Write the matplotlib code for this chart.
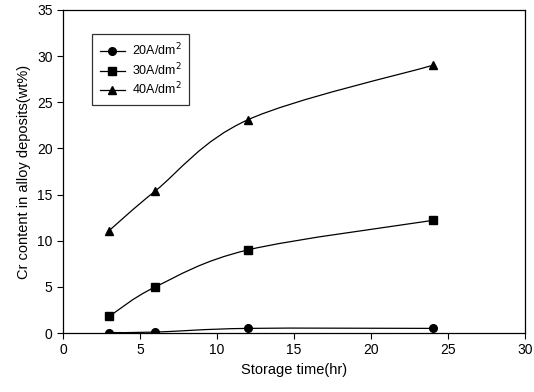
import numpy as np
import matplotlib.pyplot as plt
from matplotlib.path import Path
from matplotlib.patches import PathPatch

plt.rcParams['font.family'] = ['Liberation Sans', 'DejaVu Sans']

# data
time_hr = [3, 6, 12, 24]
cr_20 = [0.05, 0.1, 0.5, 0.5]
cr_30 = [1.8, 5.0, 9.0, 12.2]
cr_40 = [11.1, 15.4, 23.1, 29.0]
labels = ['20A/dm$^2$', '30A/dm$^2$', '40A/dm$^2$']
markers = ['o', 's', '^']


def smooth_path(x, y):
    # catmull-rom through the points, written as cubic bezier segments
    x = np.asarray(x, float)
    y = np.asarray(y, float)
    p = np.column_stack([x, y])
    verts = [p[0]]
    codes = [Path.MOVETO]
    n = len(p)
    for i in range(n - 1):
        p0 = p[i - 1] if i > 0 else p[i]
        p3 = p[i + 2] if i + 2 < n else p[i + 1]
        c1 = p[i] + (p[i + 1] - p0) / 6
        c2 = p[i + 1] - (p3 - p[i]) / 6
        verts += [c1, c2, p[i + 1]]
        codes += [Path.CURVE4] * 3
    return Path(verts, codes)


fig = plt.figure(figsize=(5.34, 3.92), dpi=100)
ax = fig.add_axes([0.118, 0.1505, 0.865, 0.824])

for ys, m, lab in zip([cr_20, cr_30, cr_40], markers, labels):
    ax.add_patch(PathPatch(smooth_path(time_hr, ys), fill=False,
                           edgecolor='black', lw=0.9))
    ax.plot(time_hr, ys, linestyle='none', marker=m, color='black', ms=5.5)
    ax.plot([], [], '-', marker=m, color='black', ms=5.5, lw=0.9, label=lab)

ax.set_xlim(0, 30)
ax.set_ylim(0, 35)
ax.set_xticks(range(0, 31, 5))
ax.set_yticks(range(0, 36, 5))
ax.tick_params(direction='out', length=4, labelsize=10, width=0.8)
for s in ax.spines.values():
    s.set_linewidth(0.9)

ax.set_xlabel('Storage time(hr)', fontsize=10.5)
ax.set_ylabel('Cr content in alloy deposits(wt%)', fontsize=10.5)

leg = ax.legend(loc='upper left', bbox_to_anchor=(0.063, 0.925), fontsize=9,
                frameon=True, fancybox=False, edgecolor='black',
                handlelength=2.0, handletextpad=0.6, borderpad=0.6,
                labelspacing=0.25, borderaxespad=0)
leg.get_frame().set_linewidth(0.9)

fig.savefig('out.png', dpi=100)
